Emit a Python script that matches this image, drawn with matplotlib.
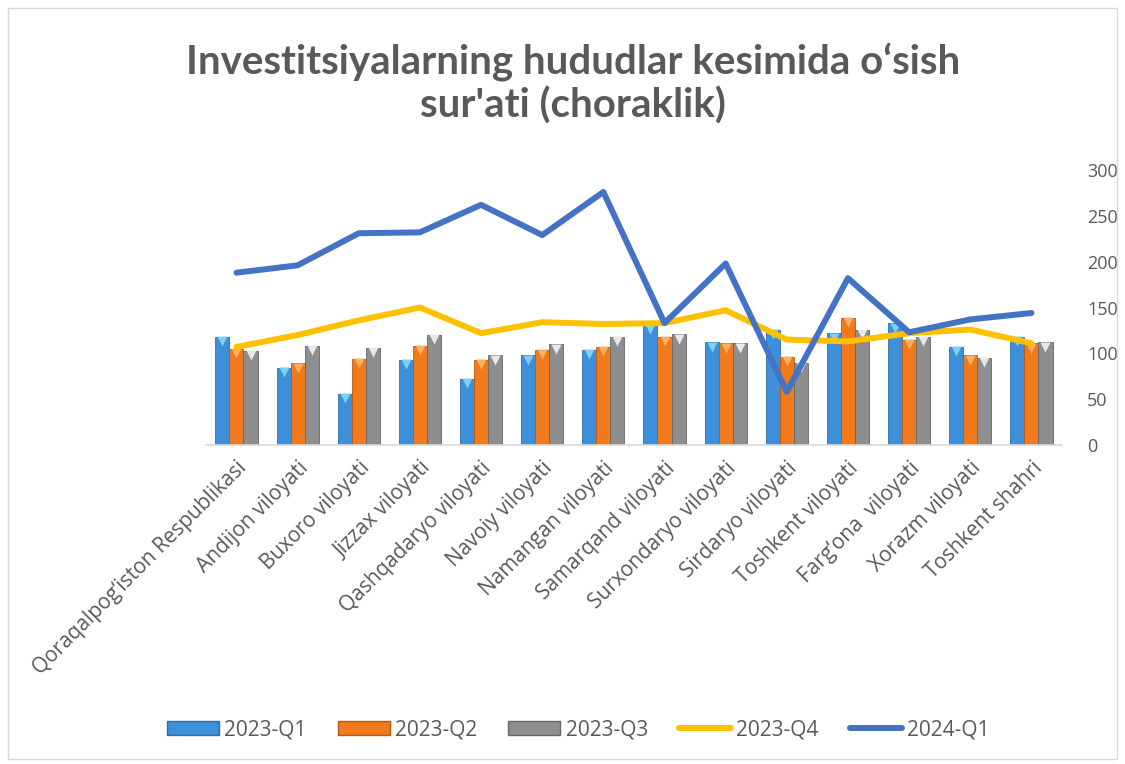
import numpy as np
import matplotlib.pyplot as plt
import matplotlib.transforms as mtransforms
from matplotlib.patches import Patch, Rectangle
from matplotlib.lines import Line2D

plt.rcParams['font.family'] = ['Open Sans', 'DejaVu Sans']

regions = ['Qoraqalpog‘iston Respublikasi', 'Andijon viloyati', 'Buxoro viloyati',
           'Jizzax viloyati', 'Qashqadaryo viloyati', 'Navoiy viloyati',
           'Namangan viloyati', 'Samarqand viloyati', 'Surxondaryo viloyati',
           'Sirdaryo viloyati', 'Toshkent viloyati', 'Farg‘ona  viloyati',
           'Xorazm viloyati', 'Toshkent shahri']

q1_2023 = [118, 84, 56, 93, 72, 98, 104, 131, 112, 126, 122, 133, 107, 118]
q2_2023 = [105, 89, 94, 108, 93, 104, 107, 118, 111, 96, 139, 115, 98, 111]
q3_2023 = [103, 108, 106, 120, 98, 110, 118, 121, 111, 90, 126, 118, 95, 112]
q4_2023 = [107, 120, 136, 150, 122, 134, 132, 133, 147, 115, 113, 122, 126, 111]
q1_2024 = [188, 196, 231, 232, 262, 229, 276, 133, 198, 58, 182, 123, 137, 144]

text_col = '#595959'
c_q1 = '#3c8fd8'
c_q2 = '#f07a1c'
c_q3 = '#8e8e8e'
c_q4 = '#ffc000'
c_24 = '#4472c4'

fig = plt.figure(figsize=(11.25, 7.64), dpi=100)
ax = fig.add_axes([0.183, 0.4175, 0.761, 0.36])

x = np.arange(len(regions))
w = 0.23
# bars with a lighter "bevel" triangle at the top, like the excel 3D look
tri = mtransforms.offset_copy(ax.transData, fig=fig, y=-3.2, units='points')
bar_sets = [(x - w, q1_2023, c_q1, '#2f6fa8', '#7fd0f5'),
            (x, q2_2023, c_q2, '#b85a12', '#ffb060'),
            (x + w, q3_2023, c_q3, '#666666', '#e8e8e8')]
for xs, vals, col, edge, light in bar_sets:
    ax.bar(xs, vals, w, color=col, edgecolor=edge, linewidth=0.6, zorder=2)
    ax.plot(xs, vals, 'v', ms=7, color=light, mec='none', transform=tri, zorder=2.5)

ax.plot(x, q4_2023, color=c_q4, lw=4.3, solid_capstyle='round', solid_joinstyle='round', zorder=3)
ax.plot(x, q1_2024, color=c_24, lw=4.3, solid_capstyle='round', solid_joinstyle='round', zorder=4)

ax.set_xlim(-0.5, 13.5)
ax.set_ylim(0, 300)
ax.set_yticks(range(0, 301, 50))
ax.yaxis.tick_right()
ax.tick_params(axis='y', length=0, pad=18, labelsize=13, labelcolor=text_col)
ax.set_xticks(x)
ax.set_xticklabels(regions, rotation=45, ha='right', rotation_mode='anchor',
                   fontsize=15, color=text_col)
ax.tick_params(axis='x', length=0, pad=9)
for s in ['top', 'left', 'right']:
    ax.spines[s].set_visible(False)
ax.spines['bottom'].set_color('#d9d9d9')
ax.spines['bottom'].set_linewidth(1.2)

fig.text(0.509, 0.891, 'Investitsiyalarning hududlar kesimida o‘sish\nsur\'ati (choraklik)',
         ha='center', va='center', fontsize=29, fontweight='bold', color=text_col,
         family=['Lato', 'DejaVu Sans'], linespacing=1.2)

handles = [Patch(facecolor=c_q1, edgecolor='#2f6fa8'),
           Patch(facecolor=c_q2, edgecolor='#b85a12'),
           Patch(facecolor=c_q3, edgecolor='#666666'),
           Line2D([], [], color=c_q4, lw=4.3, solid_capstyle='round'),
           Line2D([], [], color=c_24, lw=4.3, solid_capstyle='round')]
labels = ['2023-Q1', '2023-Q2', '2023-Q3', '2023-Q4', '2024-Q1']
fig.legend(handles, labels, loc='center', bbox_to_anchor=(0.514, 0.045), ncol=5,
           frameon=False, fontsize=15, labelcolor=text_col, handlelength=2.5,
           handleheight=0.7, handletextpad=0.25, columnspacing=1.5)

fig.add_artist(Rectangle((0.007, 0.007), 0.986, 0.983, transform=fig.transFigure,
                         fill=False, edgecolor='#d9d9d9', linewidth=1))

fig.savefig('out.png', dpi=100)
